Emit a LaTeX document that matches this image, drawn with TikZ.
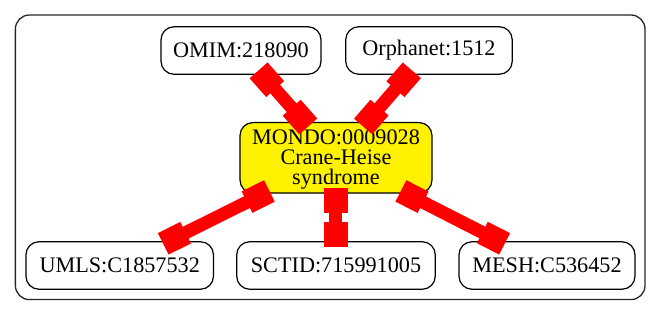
\documentclass[tikz,border=0pt]{standalone}
\usepackage{fontspec}
\setmainfont{Liberation Serif}
\usetikzlibrary{arrows.meta}

\tikzset{
  term/.style={draw=black, line width=0.6pt, rounded corners=6.5pt, fill=white,
    inner sep=0pt, align=center, minimum height=23.75pt,
    font=\fontsize{11.1}{10}\selectfont},
  focus/.style={term, fill=yellow, minimum height=35.25pt, text height=29.5pt},
  xref/.style={draw=red, line width=6.5pt,
    arrows={Square[length=12.5pt,width=12pt]-Square[length=12.5pt,width=12pt]},
    shorten <=-3pt, shorten >=-3pt},
  group/.style={draw=black!85, line width=0.65pt, rounded corners=7pt}
}

\begin{document}
\begin{tikzpicture}
  \useasboundingbox (0,0) rectangle (330.5pt,-158pt);
  % enclosing cluster
  \draw[group] (7.7pt,-7.5pt) rectangle (322.5pt,-149.8pt);

  % cross-reference terms
  \node[term, minimum width=80pt]    (omim)     at (120.5pt,-25.25pt) {OMIM:218090};
  \node[term, minimum width=83.25pt] (orphanet) at (214.5pt,-25.25pt) {Orphanet:1512};
  \node[focus, minimum width=96pt]   (mondo)    at (168pt,-78.9pt)
    {MONDO:0009028\\Crane-Heise\\syndrome};
  \node[term, minimum width=93.75pt] (umls)     at (59.85pt,-132.75pt) {UMLS:C1857532};
  \node[term, minimum width=99.25pt] (sctid)    at (168pt,-132.75pt) {SCTID:715991005};
  \node[term, minimum width=88pt]    (mesh)     at (273.5pt,-132.75pt) {MESH:C536452};

  % equivalence links
  \draw[xref] (omim) -- (mondo);
  \draw[xref] (orphanet) -- (mondo);
  \draw[xref] (mondo) -- (umls);
  \draw[xref] (mondo) -- (sctid);
  \draw[xref] (mondo) -- (mesh);
\end{tikzpicture}
\end{document}
